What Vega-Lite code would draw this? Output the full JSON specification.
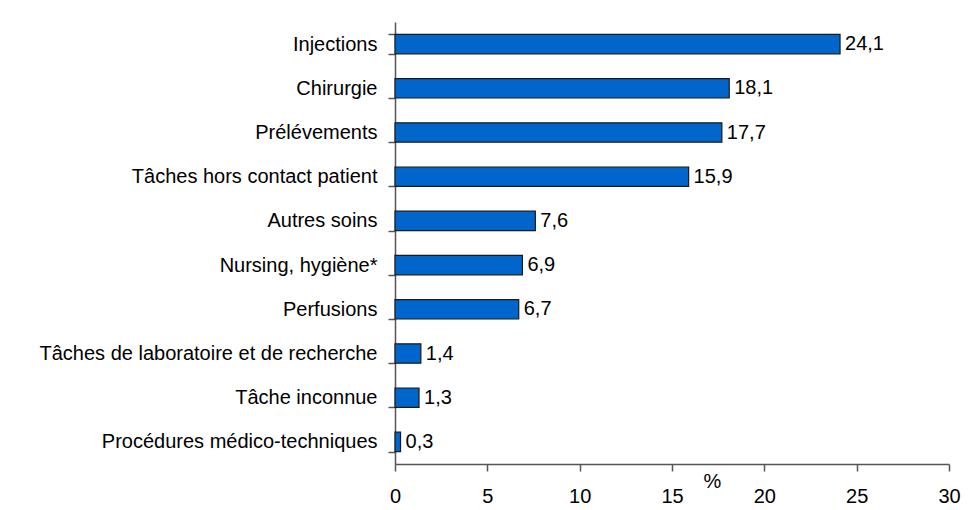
{
  "$schema": "https://vega.github.io/schema/vega-lite/v6.json",
  "autosize": {"type": "none"},
  "width": 554,
  "height": 442,
  "padding": {"left": 395, "top": 22, "right": 21, "bottom": 46},
  "background": "white",
  "config": {
    "view": {"stroke": null},
    "font": "Liberation Sans",
    "locale": {"number": {"decimal": ",", "thousands": " ", "grouping": [3], "currency": ["", " €"]}}
  },
  "data": {
    "values": [
      {"tache": "Injections", "pct": 24.1},
      {"tache": "Chirurgie", "pct": 18.1},
      {"tache": "Prélévements", "pct": 17.7},
      {"tache": "Tâches hors contact patient", "pct": 15.9},
      {"tache": "Autres soins", "pct": 7.6},
      {"tache": "Nursing, hygiène*", "pct": 6.9},
      {"tache": "Perfusions", "pct": 6.7},
      {"tache": "Tâches de laboratoire et de recherche", "pct": 1.4},
      {"tache": "Tâche inconnue", "pct": 1.3},
      {"tache": "Procédures médico-techniques", "pct": 0.3}
    ]
  },
  "encoding": {
    "y": {
      "field": "tache",
      "type": "nominal",
      "sort": null,
      "scale": {"paddingInner": 0.56, "paddingOuter": 0.28},
      "axis": {
        "title": null,
        "tickBand": "extent",
        "labelFontSize": 20,
        "labelColor": "#000000",
        "labelPadding": 11,
        "labelLimit": 400,
        "tickSize": 7,
        "tickColor": "#555555",
        "domainColor": "#555555",
        "tickWidth": 1.5,
        "domainWidth": 1.5
      }
    },
    "x": {
      "field": "pct",
      "type": "quantitative",
      "scale": {"domain": [0, 30], "nice": false},
      "axis": {
        "title": "%",
        "titleFontSize": 20,
        "titleFontWeight": "normal",
        "titleColor": "#000000",
        "titleX": 317,
        "titleY": 23,
        "titleAlign": "center",
        "titleBaseline": "alphabetic",
        "values": [0, 5, 10, 15, 20, 25, 30],
        "format": "d",
        "grid": false,
        "labelFontSize": 20,
        "labelColor": "#000000",
        "labelPadding": 15,
        "labelFlush": false,
        "labelOverlap": false,
        "tickSize": 7,
        "tickColor": "#555555",
        "domainColor": "#555555",
        "tickWidth": 1.5,
        "domainWidth": 1.5
      }
    }
  },
  "layer": [
    {
      "mark": {"type": "bar", "color": "#0066CC", "stroke": "#1a1a1a", "strokeWidth": 1.2}
    },
    {
      "mark": {"type": "text", "align": "left", "baseline": "middle", "dx": 5, "fontSize": 20, "color": "#000000"},
      "encoding": {"text": {"field": "pct", "type": "quantitative", "format": ".1f"}}
    }
  ]
}
